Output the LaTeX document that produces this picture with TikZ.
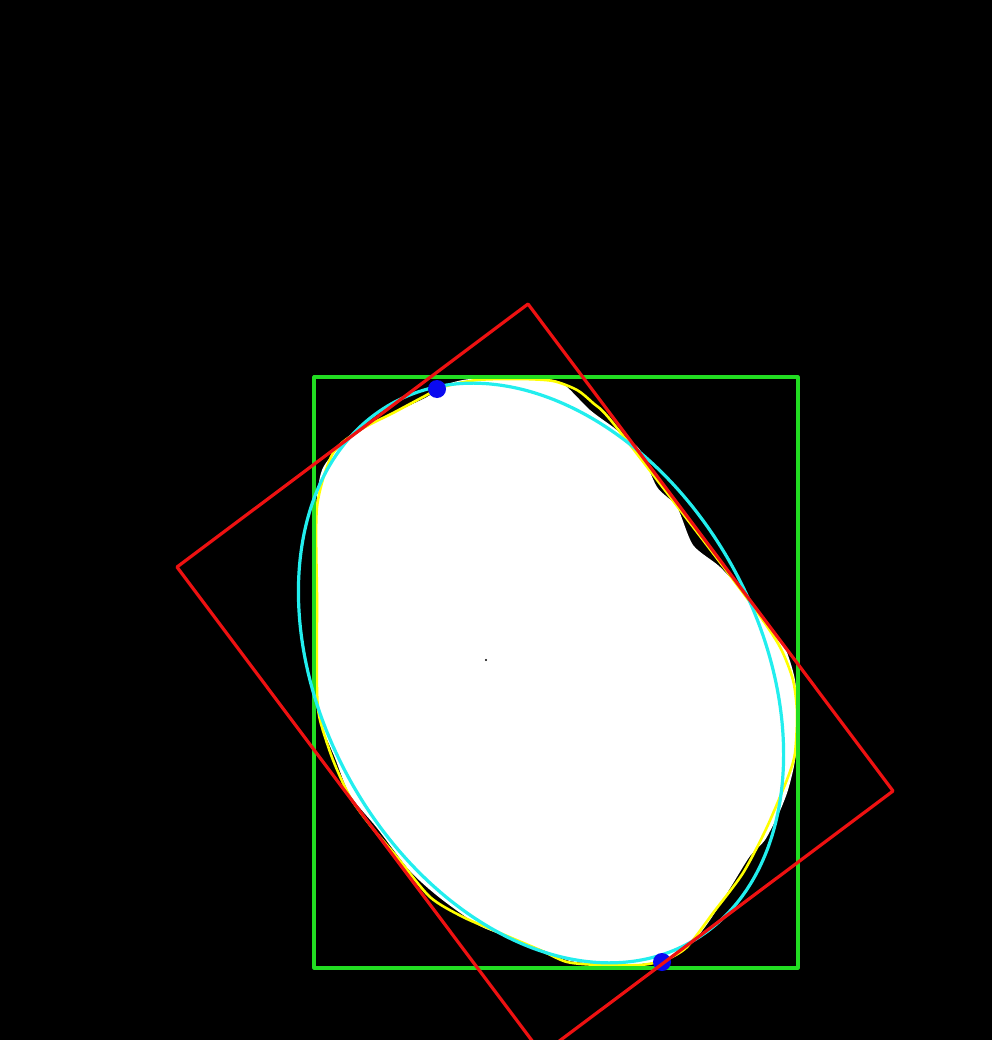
\documentclass[tikz,border=0pt]{standalone}
\usepackage{xcolor}
\usetikzlibrary{calc}
\definecolor{hullyellow}{HTML}{FFFF00}
\definecolor{fitcyan}{HTML}{22EEEE}
\definecolor{boxgreen}{HTML}{22DD22}
\definecolor{rotred}{HTML}{EE1111}
\definecolor{extblue}{HTML}{0A0AF0}
\tikzset{
  blobfill/.style={fill=white},
  hullline/.style={draw=hullyellow,line width=2.6pt},
  fitline/.style={draw=fitcyan,line width=3.2pt},
  boxline/.style={draw=boxgreen,line width=3.2pt},
  rotline/.style={draw=rotred,line width=3.2pt},
  extpt/.style={fill=extblue}
}
\begin{document}
\begin{tikzpicture}[x=1pt,y=-1pt,line cap=round,line join=round]
  % Frame
  \fill[black] (0,0) rectangle (992,1040);
  \useasboundingbox (0,0) rectangle (992,1040);
  \clip (0,0) rectangle (992,1040);

  % White region
  \fill[blobfill] plot[smooth cycle,tension=0.45] coordinates {
    (470,379) (520,378) (553,380) (567,387) (590,410) (613,427)
    (620,433) (640,450) (657,487) (677,507) (693,545) (720,567)
    (750,600) (763,622) (783,643) (795,680) (797,720) (795,760)
    (788,790) (779,813) (765,840) (750,856) (732,885) (710,920)
    (692,943) (672,958) (640,964) (600,964) (570,961) (548,952)
    (517,940) (480,926) (440,898) (410,871) (377,828) (350,795)
    (335,758) (321,723) (316,683) (316,600) (316,510) (322,470)
    (340,447) (367,427) (400,410) (427,397) (445,385)};
  \fill[black] (486,660) circle (1.2);

  % Contour
  \draw[hullline] plot[smooth cycle,tension=0.45] coordinates {
    (477,380) (520,379) (553,381) (577,390) (593,403) (613,423)
    (703,540) (755,609) (780,647) (793,680) (797,713) (795,753)
    (788,777) (767,827) (743,873) (713,913) (687,947) (665,960)
    (640,965) (600,965) (567,962) (540,950) (500,933) (463,917)
    (430,897) (397,857) (370,825) (350,797) (333,760) (320,720)
    (317,690) (317,600) (317,507) (333,453) (360,430) (393,413)
    (423,397) (443,387)};

  % Upright box
  \draw[boxline] (314,377) rectangle (798,968);

  % Fitted ellipse
  \coordinate (ctr) at (541,673);
  \draw[fitline,rotate around={-61.2:(ctr)}] (ctr) ellipse [x radius=308,y radius=219];

  % Extreme points
  \fill[extpt] (437,389) circle (9);
  \fill[extpt] (662,962) circle (9);

  % Rotated box
  \coordinate (rtop) at (528,304);
  \coordinate (rright) at (893,791);
  \coordinate (rbot) at (542,1054);
  \coordinate (rleft) at (177,567);
  \draw[rotline] (rtop) -- (rright) -- (rbot) -- (rleft) -- cycle;
\end{tikzpicture}
\end{document}
